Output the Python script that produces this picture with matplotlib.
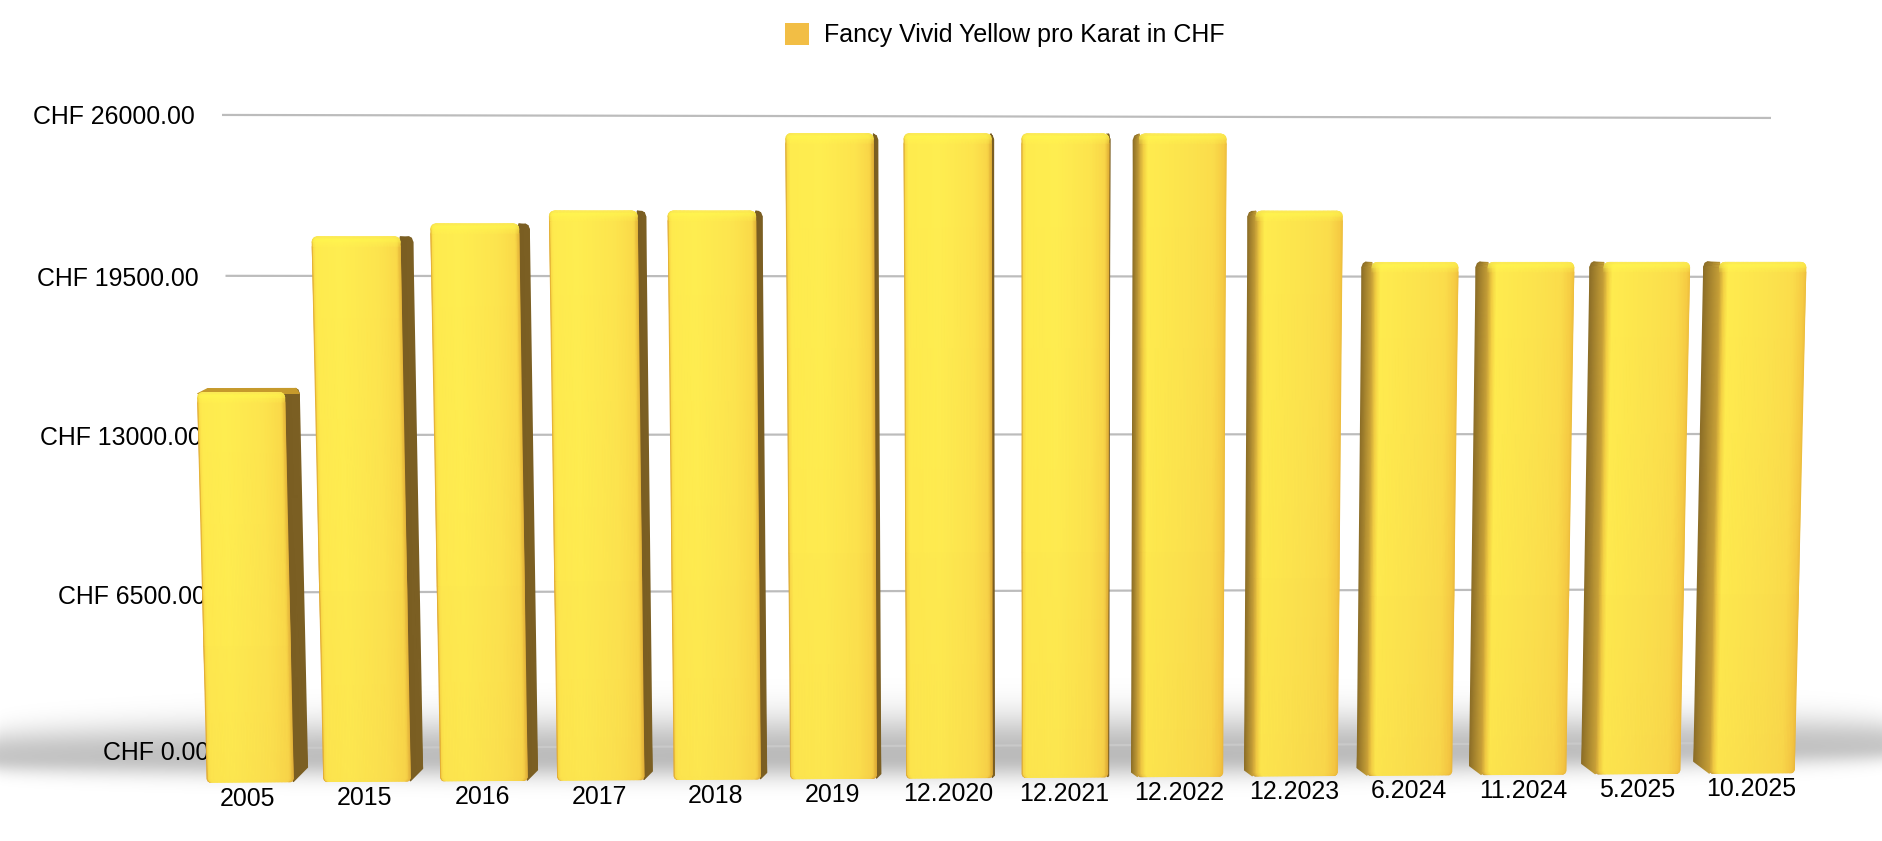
import numpy as np
import matplotlib
matplotlib.use("Agg")
import matplotlib.pyplot as plt
from matplotlib.patches import Patch
from matplotlib.transforms import Transform, Affine2D

plt.rcParams['font.family'] = ['Liberation Sans', 'DejaVu Sans']

categories = ["2005", "2015", "2016", "2017", "2018", "2019", "12.2020", "12.2021",
              "12.2022", "12.2023", "6.2024", "11.2024", "5.2025", "10.2025"]
prices = [15000, 21000, 21500, 22000, 22000, 25000, 25000, 25000,
          25000, 22000, 20000, 20000, 20000, 20000]
y_ticks = [0, 6500, 13000, 19500, 26000]
y_labels = ["CHF 0.00", "CHF 6500.00", "CHF 13000.00", "CHF 19500.00", "CHF 26000.00"]
series_name = "Fancy Vivid Yellow pro Karat in CHF"

W, H, DPI = 1882, 841, 100
BASE_PX = 782      # pixel row of the front base of the bars
PX0, PXS = 250.0, 115.5
VS = 0.02596       # px per CHF on the front plane
XC = 1040.0        # vanishing column
K = 3.0e-5
TILT = 0.692
BOW = 6.5
FONT = 17.9
LAST = len(categories) - 1


class FrontPlane(Transform):
    """Slight perspective of the bars' front plane (data -> data)."""
    input_dims = output_dims = 2
    is_affine = False
    has_inverse = False

    def transform_non_affine(self, values):
        values = np.asarray(values, float)
        x, v = values[:, 0], values[:, 1]
        px = PX0 + PXS * x + BOW * np.sin(np.pi * np.clip(x / LAST, 0, 1))
        px2 = XC + (px - XC) * (1 + K * v * VS)
        v2 = v + TILT * x * (1 - v / 21000) / VS
        return np.column_stack([(px2 - PX0) / PXS, v2])


class BackPlane(Transform):
    """Perspective of the gridline wall (axes x in 0..1, CHF y -> same units)."""
    input_dims = output_dims = 2
    is_affine = False
    has_inverse = False

    def transform_non_affine(self, values):
        values = np.asarray(values, float)
        x, v = values[:, 0], values[:, 1]
        rise = 0.02381 * v + 2.07e-8 * v * v    # px above the zero line
        rise = rise + x * (5 - 8 * v / 26000)   # wall tilts as it goes right
        lean = 14 * (1 - v / 26000) / (1771 - 222)
        return np.column_stack([x * (1 - 2 * lean) + lean, rise / GRID_VS])


fig = plt.figure(figsize=(W / DPI, H / DPI), dpi=DPI, facecolor="white")

# --- soft floor shadow behind everything
yy, xx = np.mgrid[0:H, 0:W]
fx = xx / W
taper = np.sin(np.pi * fx) ** 0.5
centre = 756 - 11 * fx ** 3
su = 24 + 16 * taper
sd = 15 + 8 * taper
d = yy - centre
sig = np.where(d < 0, su, sd)
alpha = (0.22 + 0.05 * taper) * np.exp(-np.abs(d / sig) ** 2.2)
shadow = np.zeros((H, W, 4))
shadow[..., 3] = alpha
fig.figimage(shadow, origin="upper", zorder=0)

# --- back wall: gridlines + value labels
GRID_ZERO_PX = 748
GRID_VS = (GRID_ZERO_PX - 115) / 26000
ax2 = fig.add_axes([222 / W, (H - GRID_ZERO_PX) / H, (1771 - 222) / W, GRID_ZERO_PX / H], zorder=1)
ax2.patch.set_alpha(0)
ax2.set_xlim(0, 1)
ax2.set_ylim(0, GRID_ZERO_PX / GRID_VS)
for s in ax2.spines.values():
    s.set_visible(False)
ax2.set_xticks([])
ax2.set_yticks(y_ticks, y_labels, fontsize=FONT, color="black")
ax2.tick_params(axis="y", length=0, pad=27 * 72 / DPI)
back = BackPlane()
for v in y_ticks:
    colr = "#c9c9c9" if v == 0 else "#bcbcbc"
    ax2.plot([0, 1], [v, v], color=colr, lw=2.2 * 72 / DPI,
             transform=back + ax2.transData, solid_capstyle="butt", clip_on=False)
for tick, v in zip(ax2.yaxis.get_major_ticks(), y_ticks):
    dx = 14 * (1 - v / 26000)
    dy = back.transform_non_affine(np.array([[0.0, float(v)]]))[0, 1] * GRID_VS - v * GRID_VS
    dy -= 2 + 3 * (1 - v / 26000)
    tick.label1.set_verticalalignment("center")
    tick.label1.set_transform(tick.label1.get_transform() + Affine2D().translate(dx, dy))

# --- bars
ax = fig.add_axes([0, (H - BASE_PX) / H, 1, BASE_PX / H], zorder=2)
ax.patch.set_alpha(0)
for s in ax.spines.values():
    s.set_visible(False)
front = FrontPlane()
tr = front + ax.transData


def hexrgb(c):
    return np.array(matplotlib.colors.to_rgb(c))


def lerp_colors(stops, u):
    pos = [p for p, _ in stops]
    cols = np.array([hexrgb(c) for _, c in stops])
    return np.column_stack([np.interp(u, pos, cols[:, k]) for k in range(3)])


WIDTH = 85.5 / PXS
LEFT_PROFILE = [(0, "#E2AE34"), (0.014, "#FBDD48"), (0.04, "#FFEB4E"), (0.30, "#FFEE50"),
                (0.75, "#FDE54E"), (0.96, "#FADA49"), (1, "#E5B63A")]
MID_PROFILE = [(0, "#DDAE36"), (0.016, "#FBDC48"), (0.05, "#FFEC4E"), (0.40, "#FFEE50"),
               (0.80, "#FDE44D"), (0.96, "#F9D648"), (1, "#E0AE36")]
RIGHT_PROFILE = [(0, "#C9A238"), (0.05, "#F3D043"), (0.10, "#FFEC4E"), (0.6, "#FCE34D"),
                 (0.86, "#FBDD4B"), (0.98, "#F6CB43"), (1, "#EDBE3C")]
TOP_EDGE = hexrgb("#FAE25A")
TOP_GLOW = hexrgb("#FFF84E")

for i, v in enumerate(prices):
    left, right = i - WIDTH / 2, i + WIDTH / 2
    px_c = PX0 + PXS * i
    on_left = px_c < 1100
    side_px = max(1.0, (1070 - px_c) * 0.0175) if on_left else 6 + (px_c - 1174) * 0.0173
    side = side_px / PXS
    rise_px = side_px if on_left else side_px * 0.75
    rise_b = rise_px / VS                        # back edge above the front base
    rise_t = rise_px * (1 - v / 21000) / VS      # back edge relative to the front top

    profile = LEFT_PROFILE if i < 5 else (MID_PROFILE if on_left else RIGHT_PROFILE)

    # side face with rounded far-top corner
    r_px = 5.0
    v_back = v + rise_t
    ins = np.array([0.0, 0.0, 1.2, 3.5]) / PXS
    back_y = np.r_[rise_b, v_back - 5 / VS, v_back - 1.5 / VS, v_back]
    front_y = np.r_[0, v - 5 / VS, v - 1.5 / VS, v]
    if on_left:
        xs_side = np.column_stack([np.full(4, right), right + side - ins])
        ys_side = np.column_stack([front_y, back_y])
        c_side = np.array([[hexrgb("#7A5E22"), hexrgb("#7C6024")]] * 4)
    else:
        xs_side = np.column_stack([left - side + ins, np.full(4, left)])
        ys_side = np.column_stack([back_y, front_y])
        c_side = np.array([[hexrgb("#8B6D27"), hexrgb("#C9A238")]] * 4)
    ax.pcolormesh(xs_side, ys_side, c_side, shading="gouraud", transform=tr, clip_on=False, zorder=2)

    # cap above a short bar
    if on_left and rise_t > 1.5 / VS:
        xc = np.array([[left, right + side], [left + 10 / PXS, right + side - 3 / PXS]])
        yc = np.array([[v - 1 / VS, v - 1 / VS], [v_back, v_back]])
        c_cap = np.array([[hexrgb("#C69A2C")] * 2] * 2)
        ax.pcolormesh(xc, yc, c_cap, shading="gouraud", transform=tr, clip_on=False, zorder=2)

    # front face: rounded corners, bright band along the top
    us = np.linspace(0, 1, 60)
    dist_top = np.array([0.0, 0.6, 1.5, 3.0, 5.0, 10.0])      # px below the top
    ins_top = r_px - np.sqrt(np.maximum(r_px ** 2 - np.maximum(r_px - dist_top, 0) ** 2, 0))
    rows = np.r_[0, 1.2 / VS, 3.0 / VS, 0.35 * v, (v - dist_top / VS)[::-1]]
    insets = np.r_[2.5, 0.8, 0, 0, ins_top[::-1]] / PXS
    X = np.array([left + n + (right - left - 2 * n) * us for n in insets])
    Y = np.array([np.full_like(us, r) for r in rows])
    base_col = lerp_colors(profile, us)
    C = []
    for r in rows:
        low = np.clip(1 - r / (0.6 * v), 0, 1)          # paler near the floor
        rowc = base_col * np.array([1 - 0.012 * low, 1 - 0.035 * low, 1 - 0.01 * low])
        dt = (v - r) * VS
        if dt < 10:
            w = (1 - dt / 10) ** 0.7
            rowc = rowc * (1 - 0.8 * w) + TOP_GLOW * 0.8 * w
        if dt < 1.2:
            rowc = rowc * 0.45 + TOP_EDGE * 0.55
        C.append(rowc)
    C = np.clip(np.array(C), 0, 1)
    ax.pcolormesh(X, Y, C, shading="gouraud", transform=tr, clip_on=False, zorder=3)

ax.set_xlim((0 - PX0) / PXS, (W - PX0) / PXS)
ax.set_ylim(0, BASE_PX / VS)
ax.set_yticks([])
ax.set_xticks(range(len(categories)), categories, fontsize=FONT, color="black")
ax.tick_params(axis="x", length=0, pad=0)
for i, tick in enumerate(ax.xaxis.get_major_ticks()):
    dy = -17 + 0.77 * i
    dx = -2.5 + 2 * i / LAST + 7 * np.sin(np.pi * i / LAST)
    tick.label1.set_verticalalignment("center")
    tick.label1.set_transform(tick.label1.get_transform() + Affine2D().translate(dx, dy))

leg = ax.legend(handles=[Patch(facecolor="#F2BE45", edgecolor="none", label=series_name)],
                loc="center left", bbox_to_anchor=(785 / W, 1 - 35 / H),
                bbox_transform=fig.transFigure, frameon=False, fontsize=18.0,
                borderpad=0, borderaxespad=0, handlelength=0.96, handleheight=0.96,
                handletextpad=0.6)

fig.savefig("out.png", dpi=DPI, facecolor="white")
